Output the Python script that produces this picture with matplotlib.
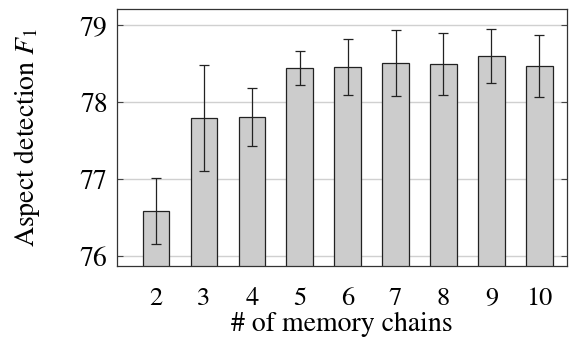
import matplotlib

matplotlib.use("Agg")
import matplotlib.pyplot as plt

chains = [2, 3, 4, 5, 6, 7, 8, 9, 10]
f1_mean = [76.59, 77.80, 77.81, 78.45, 78.46, 78.51, 78.50, 78.60, 78.47]
f1_err = [0.43, 0.69, 0.38, 0.22, 0.36, 0.43, 0.40, 0.35, 0.40]
y_ticks = [76, 77, 78, 79]

plt.rcParams["font.family"] = ["STIXGeneral", "DejaVu Serif"]
plt.rcParams["mathtext.fontset"] = "stix"

fig = plt.figure(figsize=(5.71, 3.40), dpi=100)
ax = fig.add_axes([0.2054, 0.2185, 0.7876, 0.7541])

ax.bar(
    chains, f1_mean, width=0.555, bottom=0, color="#cccccc",
    edgecolor="#222222", linewidth=0.9, zorder=2,
)
ax.errorbar(
    chains, f1_mean, yerr=f1_err, fmt="none", ecolor="#222222",
    elinewidth=0.9, capsize=3.8, capthick=0.9, zorder=3,
)

ax.set_xlim(1.19, 10.58)
ax.set_ylim(75.874, 79.21)
ax.set_xticks(chains)
ax.set_yticks(y_ticks)
ax.yaxis.grid(True, color="#d0d0d0", linewidth=1.0, zorder=0)
ax.set_axisbelow(True)

ax.tick_params(axis="x", length=0, pad=15, labelsize=19)
ax.tick_params(axis="y", direction="in", length=4, width=0.8, color="#444444",
               right=True, labelsize=20, pad=7)

for sp in ax.spines.values():
    sp.set_color("#333333")
    sp.set_linewidth(0.9)

ax.set_xlabel("# of memory chains", fontsize=20, labelpad=1)
ax.set_ylabel("Aspect detection $F_1$", fontsize=20, labelpad=27)

fig.savefig("out.png", dpi=100)
